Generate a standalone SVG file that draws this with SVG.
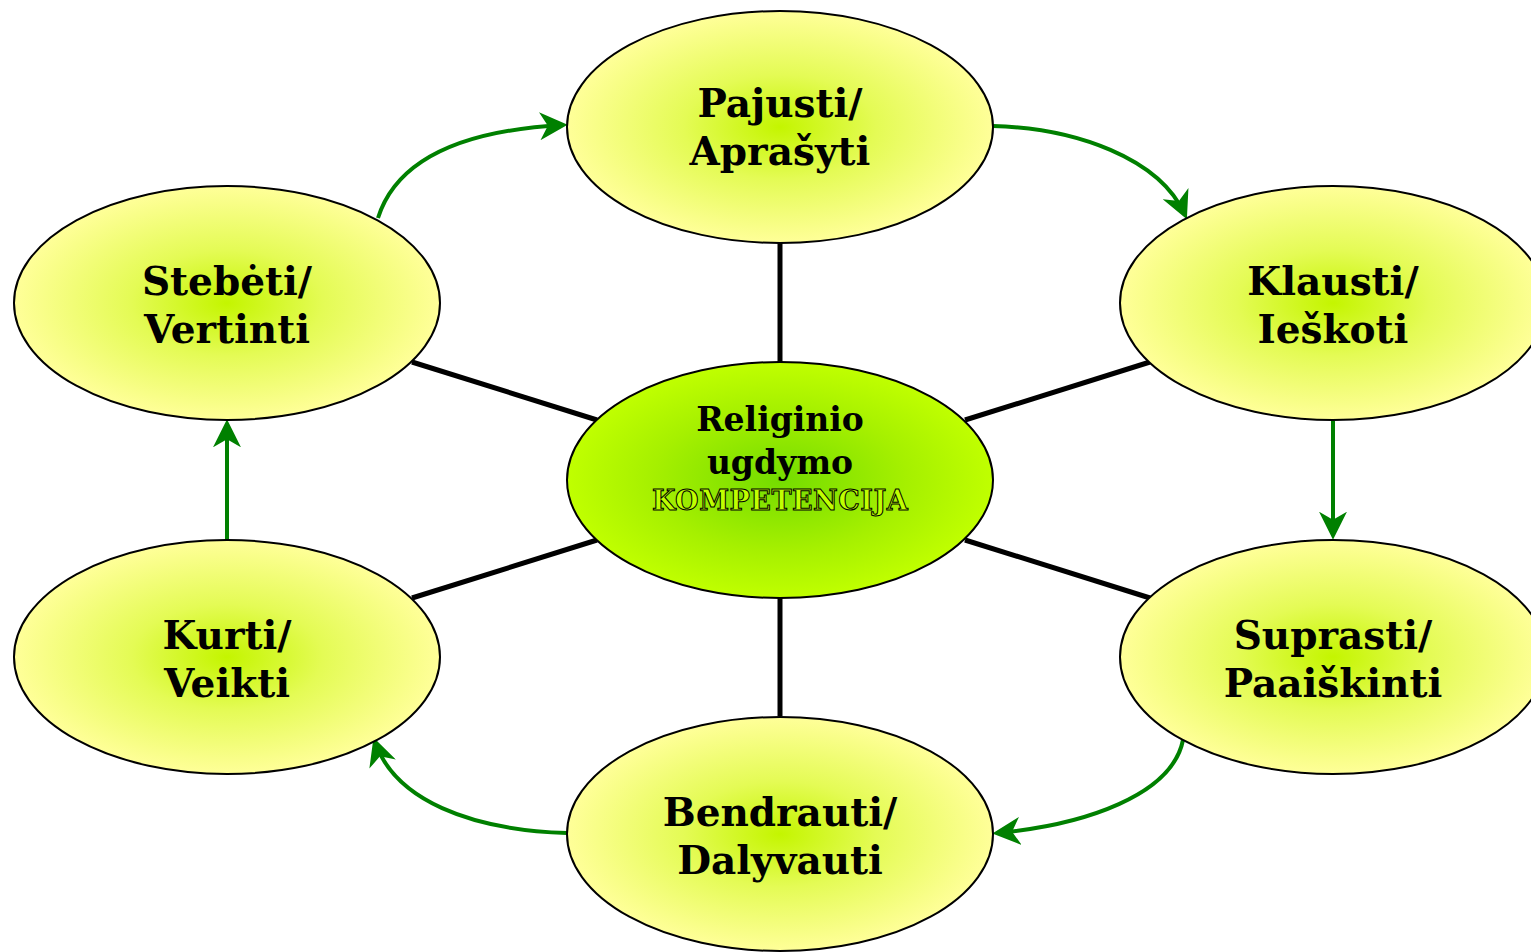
<svg xmlns="http://www.w3.org/2000/svg" width="1531" height="952" viewBox="0 0 1531 952">
<defs>
<radialGradient id="gOuter" cx="50%" cy="50%" r="50%">
<stop offset="0" stop-color="#c4f500"/>
<stop offset="0.45" stop-color="#e4fb55"/>
<stop offset="1" stop-color="#ffff99"/>
</radialGradient>
<radialGradient id="gCenter" cx="50%" cy="50%" r="50%">
<stop offset="0" stop-color="#74dc00"/>
<stop offset="0.6" stop-color="#a6f000"/>
<stop offset="1" stop-color="#c0ff00"/>
</radialGradient>
<marker id="arr" viewBox="0 0 12 12" refX="10" refY="6" markerWidth="7" markerHeight="7" markerUnits="strokeWidth" orient="auto">
<path d="M0,0 L12,6 L0,12 L3.5,6 z" fill="#008000"/>
</marker>
<style>
.node ellipse{stroke:#000;stroke-width:2}
.outer{fill:url(#gOuter)}
.center{fill:url(#gCenter)}
.lbl{font-family:"DejaVu Serif",serif;font-weight:bold;font-size:39px;text-anchor:middle;fill:#000}
.clbl{font-family:"DejaVu Serif",serif;font-weight:bold;font-size:33px;text-anchor:middle;fill:#000}
.komp{font-family:"DejaVu Serif",serif;font-weight:bold;font-size:27px;letter-spacing:0.5px;text-anchor:middle;fill:#c0ff00;stroke:#000;stroke-width:1}
.spoke{stroke:#000;stroke-width:5;fill:none}
.flow{stroke:#008000;stroke-width:4;fill:none;marker-end:url(#arr)}
</style>
</defs>
<rect width="1531" height="952" fill="#fff"/>
<g id="connectors">
<line class="spoke" x1="780" y1="243" x2="780" y2="362"/>
<line class="spoke" x1="780" y1="598" x2="780" y2="716"/>
<line class="spoke" x1="412" y1="362" x2="597" y2="420"/>
<line class="spoke" x1="412" y1="598" x2="597" y2="540"/>
<line class="spoke" x1="965" y1="420" x2="1150" y2="362"/>
<line class="spoke" x1="965" y1="540" x2="1150" y2="598"/>
<path class="flow" d="M378,218 C398,155 470,130 563,125"/>
<path class="flow" d="M993,126 C1075,128 1160,158 1185,215"/>
<path class="flow" d="M1333,421 L1333,535"/>
<path class="flow" d="M1183,740 C1172,795 1085,825 997,833"/>
<path class="flow" d="M567,833 C470,830 395,800 375,742"/>
<path class="flow" d="M227,540 L227,424"/>
</g>
<g id="node-center" class="node">
<ellipse class="center" cx="780" cy="480" rx="213" ry="118"/>
<text class="clbl" x="780" y="431">Religinio</text>
<text class="clbl" x="780" y="474">ugdymo</text>
<text class="komp" x="780" y="510">KOMPETENCIJA</text>
</g>
<g id="node-pajusti" class="node">
<ellipse class="outer" cx="780" cy="127" rx="213" ry="116"/>
<text class="lbl" x="780" y="117">Pajusti/</text>
<text class="lbl" x="780" y="165">Aprašyti</text>
</g>
<g id="node-klausti" class="node">
<ellipse class="outer" cx="1333" cy="303" rx="213" ry="117"/>
<text class="lbl" x="1333" y="295">Klausti/</text>
<text class="lbl" x="1333" y="343">Ieškoti</text>
</g>
<g id="node-suprasti" class="node">
<ellipse class="outer" cx="1333" cy="657" rx="213" ry="117"/>
<text class="lbl" x="1333" y="649">Suprasti/</text>
<text class="lbl" x="1333" y="697">Paaiškinti</text>
</g>
<g id="node-bendrauti" class="node">
<ellipse class="outer" cx="780" cy="834" rx="213" ry="117"/>
<text class="lbl" x="780" y="826">Bendrauti/</text>
<text class="lbl" x="780" y="874">Dalyvauti</text>
</g>
<g id="node-kurti" class="node">
<ellipse class="outer" cx="227" cy="657" rx="213" ry="117"/>
<text class="lbl" x="227" y="649">Kurti/</text>
<text class="lbl" x="227" y="697">Veikti</text>
</g>
<g id="node-stebeti" class="node">
<ellipse class="outer" cx="227" cy="303" rx="213" ry="117"/>
<text class="lbl" x="227" y="295">Stebėti/</text>
<text class="lbl" x="227" y="343">Vertinti</text>
</g>
</svg>
